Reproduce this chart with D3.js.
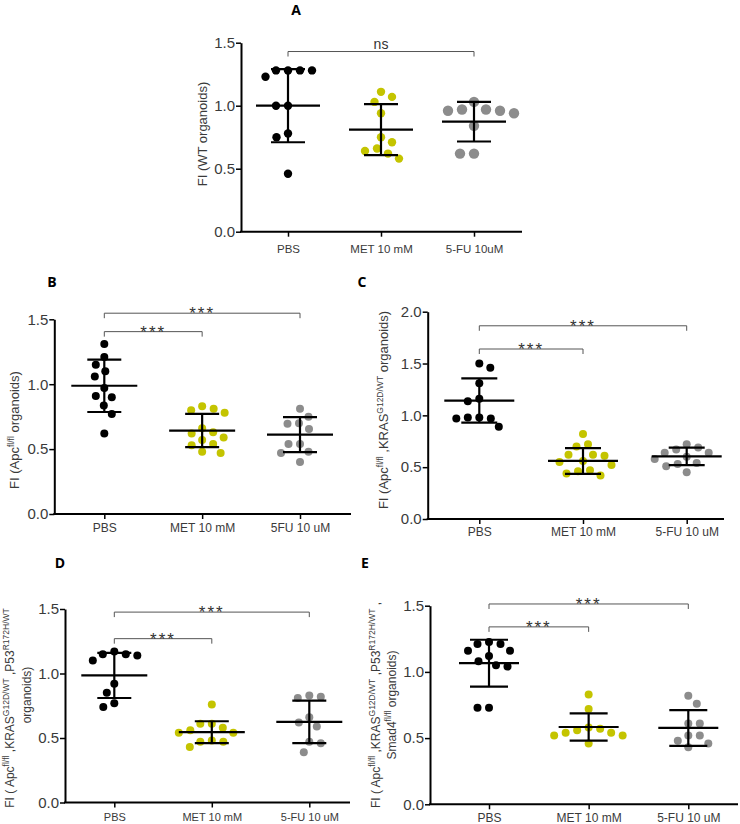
<!DOCTYPE html>
<html>
<head>
<meta charset="utf-8">
<script src="https://cdnjs.cloudflare.com/ajax/libs/d3/7.8.5/d3.min.js"></script>
<style>
  body { margin: 0; background: #fff; }
  svg { display: block; font-family: "Liberation Sans", Arial, sans-serif; }
</style>
</head>
<body>
<svg id="chart" width="740" height="824"></svg>
<script>
// categories (x tick labels) per panel
const catsA = ["PBS", "MET 10 mM", "5-FU 10uM"];
const catsB = ["PBS", "MET 10 mM", "5FU 10 uM"];
const catsC = ["PBS", "MET 10 mM", "5-FU 10 uM"];
const catsD = ["PBS", "MET 10 mM", "5-FU 10 uM"];
const catsE = ["PBS", "MET 10 mM", "5-FU 10 uM"];

// individual organoid values
const valuesA = [
  [1.28, 1.28, 1.28, 1.28, 1.23, 1.0, 1.0, 0.78, 0.75, 0.46],
  [1.11, 1.07, 1.03, 0.94, 0.75, 0.71, 0.66, 0.64, 0.62, 0.58],
  [1.03, 0.97, 0.97, 0.96, 0.96, 0.94, 0.84, 0.62, 0.62],
];
const valuesB = [
  [1.31, 1.21, 1.15, 1.1, 1.06, 0.97, 0.91, 0.9, 0.835, 0.77, 0.62],
  [0.83, 0.81, 0.8, 0.78, 0.66, 0.63, 0.62, 0.59, 0.57, 0.54, 0.53, 0.48, 0.47],
  [0.81, 0.75, 0.7, 0.695, 0.655, 0.54, 0.54, 0.48, 0.47, 0.4],
];
const valuesC = [
  [1.5, 1.46, 1.31, 1.16, 1.135, 0.98, 0.98, 0.97, 0.97, 0.89],
  [0.82, 0.72, 0.7, 0.62, 0.62, 0.61, 0.56, 0.55, 0.52, 0.47, 0.46, 0.44, 0.42],
  [0.72, 0.69, 0.67, 0.64, 0.64, 0.6, 0.58, 0.54, 0.53, 0.51, 0.45],
];
const valuesD = [
  [1.17, 1.15, 1.15, 1.14, 1.1, 0.92, 0.85, 0.77, 0.74],
  [0.76, 0.61, 0.61, 0.58, 0.56, 0.54, 0.54, 0.48, 0.47, 0.47, 0.43],
  [0.83, 0.82, 0.81, 0.66, 0.62, 0.59, 0.47, 0.46, 0.39],
];
const valuesE = [
  [1.225, 1.21, 1.21, 1.16, 1.16, 1.12, 1.08, 1.05, 1.04, 0.73, 0.73],
  [0.83, 0.72, 0.58, 0.57, 0.56, 0.54, 0.54, 0.52, 0.52, 0.46],
  [0.82, 0.76, 0.61, 0.61, 0.52, 0.52, 0.48, 0.46, 0.43],
];

// mean and SD bars as drawn
const meansA = [1.0, 0.81, 0.873];
const sdsA = [0.29, 0.203, 0.157];
const meansB = [0.988, 0.643, 0.612];
const sdsB = [0.202, 0.128, 0.135];
const meansC = [1.143, 0.56, 0.604];
const sdsC = [0.214, 0.124, 0.084];
const meansD = [0.985, 0.545, 0.625];
const sdsD = [0.175, 0.085, 0.165];
const meansE = [1.066, 0.584, 0.577];
const sdsE = [0.177, 0.103, 0.135];

// significance brackets: from group, to group, height, label
const bracketsA = [{ from: 0, to: 2, at: 1.43, label: "ns" }];
const bracketsB = [
  { from: 0, to: 1, at: 1.405, label: "***" },
  { from: 0, to: 2, at: 1.547, label: "***" },
];
const bracketsC = [
  { from: 0, to: 1, at: 1.64, label: "***" },
  { from: 0, to: 2, at: 1.864, label: "***" },
];
const bracketsD = [
  { from: 0, to: 1, at: 1.27, label: "***" },
  { from: 0, to: 2, at: 1.476, label: "***" },
];
const bracketsE = [
  { from: 0, to: 1, at: 1.34, label: "***" },
  { from: 0, to: 2, at: 1.513, label: "***" },
];

const groupColors = ["#000000", "#c4c400", "#8c8c8c"];

// panel layout (pixels)
const panels = [
  {
    letter: "A", letterPos: [296, 15],
    cats: catsA, values: valuesA, means: meansA, sds: sdsA, brackets: bracketsA,
    yMax: 1.5, ticks: [0, 0.5, 1, 1.5],
    axisX: [241, 522], catX: [288, 474], axisY: [231.7, 42.7],
    catLabelY: 253, catFont: 11.5, r: [4.2, 4.2, 5.2], meanHalf: 32, capHalf: 17,
    ylabel: [{ x: 207, y: 134, parts: [["FI (WT organoids)", 0]] }],
  },
  {
    letter: "B", letterPos: [52, 287],
    cats: catsB, values: valuesB, means: meansB, sds: sdsB, brackets: bracketsB,
    yMax: 1.5, ticks: [0, 0.5, 1, 1.5],
    axisX: [54.3, 351], catX: [104.3, 300], axisY: [514, 319.3],
    catLabelY: 532, catFont: 12, r: [4, 4, 4], meanHalf: 33, capHalf: 17,
    ylabel: [{ x: 19, y: 430, parts: [["FI (Apc", 0], ["fl/fl", 1], [" organoids)", 0]] }],
  },
  {
    letter: "C", letterPos: [362, 287],
    cats: catsC, values: valuesC, means: meansC, sds: sdsC, brackets: bracketsC,
    yMax: 2.0, ticks: [0, 0.5, 1, 1.5, 2],
    axisX: [427.7, 724], catX: [479.3, 686.7], axisY: [519, 311.7],
    catLabelY: 535.5, catFont: 12, r: [4, 4, 4], meanHalf: 35, capHalf: 18,
    ylabel: [{ x: 388, y: 410, parts: [["FI (Apc", 0], ["fl/fl", 1], [" ,KRAS", 0], ["G12D/WT", 1], [" organoids)", 0]] }],
  },
  {
    letter: "D", letterPos: [60, 568],
    cats: catsD, values: valuesD, means: meansD, sds: sdsD, brackets: bracketsD,
    yMax: 1.5, ticks: [0, 0.5, 1, 1.5],
    axisX: [65, 350], catX: [114.3, 309.3], axisY: [802.5, 609],
    catLabelY: 821, catFont: 11, r: [4, 4, 4], meanHalf: 33, capHalf: 17,
    ylabel: [
      { x: 14, y: 708, parts: [["FI ( Apc", 0], ["fl/fl", 1], [" ,KRAS", 0], ["G12D/WT", 1], [" ,P53", 0], ["R172H/WT", 1]] },
      { x: 31, y: 695, parts: [["organoids)", 0]] },
    ],
  },
  {
    letter: "E", letterPos: [365, 568],
    cats: catsE, values: valuesE, means: meansE, sds: sdsE, brackets: bracketsE,
    yMax: 1.5, ticks: [0, 0.5, 1, 1.5],
    axisX: [430, 738], catX: [489, 688.3], axisY: [804.3, 605.7],
    catLabelY: 822, catFont: 12, r: [4, 4, 4], meanHalf: 30, capHalf: 19,
    ylabel: [
      { x: 380, y: 705, parts: [["FI ( Apc", 0], ["fl/fl", 1], [" ,KRAS", 0], ["G12D/WT", 1], [" ,P53", 0], ["R172H/WT", 1], [" ,", 0]] },
      { x: 396, y: 705, parts: [["Smad4", 0], ["fl/fl", 1], [" organoids)", 0]] },
    ],
  },
];

const svg = d3.select("#chart");
const fmt = d3.format(".1f");

// simple beeswarm: each point takes the nearest free horizontal offset
const swarm = (vals, y, dist) => {
  const placed = [];
  vals
    .slice()
    .sort((a, b) => b - a)
    .forEach((v, i) => {
      const py = y(v);
      let best = null;
      for (let k = 0; k <= 120 && best === null; k++) {
        const cands = k === 0 ? [0] : i % 2 ? [k * 0.5, -k * 0.5] : [-k * 0.5, k * 0.5];
        for (const dx of cands) {
          const free = placed.every((q) => (q.dx - dx) ** 2 + (q.py - py) ** 2 >= dist * dist);
          if (free) {
            best = dx;
            break;
          }
        }
      }
      placed.push({ v, dx: best, py });
    });
  return placed;
};

const drawPanel = (p) => {
  const g = svg.append("g");
  const y = d3.scaleLinear().domain([0, p.yMax]).range(p.axisY);
  const x = d3.scalePoint().domain(p.cats).range(p.catX);

  // panel letter
  g.append("text")
    .attr("x", p.letterPos[0])
    .attr("y", p.letterPos[1])
    .attr("text-anchor", "middle")
    .style("font-family", "'Open Sans', 'DejaVu Sans', sans-serif")
    .style("font-weight", "bold")
    .style("font-size", "14px")
    .text(p.letter);

  // y axis
  const yAxis = g.append("g")
    .attr("transform", `translate(${p.axisX[0]},0)`)
    .call(d3.axisLeft(y).tickValues(p.ticks).tickFormat(fmt).tickSize(5).tickSizeOuter(0));
  yAxis.select(".domain").attr("stroke", "#000").attr("stroke-width", 2);
  yAxis.selectAll(".tick line").attr("stroke", "#000").attr("stroke-width", 1.5);
  yAxis.selectAll(".tick text")
    .attr("fill", "#3a3a3a")
    .attr("x", -6)
    .style("font-size", "15px")
    .style("font-family", "'Liberation Sans', Arial, sans-serif");

  // x axis
  const xAxis = g.append("g")
    .attr("transform", `translate(0,${p.axisY[0]})`)
    .call(d3.axisBottom(x).tickSize(5).tickSizeOuter(0));
  xAxis.select(".domain").remove();
  xAxis.append("line")
    .attr("x1", p.axisX[0] - 1)
    .attr("x2", p.axisX[1])
    .attr("stroke", "#000")
    .attr("stroke-width", 2);
  xAxis.selectAll(".tick line").attr("stroke", "#000").attr("stroke-width", 1.5);
  xAxis.selectAll(".tick text")
    .attr("fill", "#3a3a3a")
    .attr("y", p.catLabelY - p.axisY[0])
    .attr("dy", 0)
    .style("font-size", p.catFont + "px")
    .style("font-family", "'Liberation Sans', Arial, sans-serif");

  // y label, rotated, with superscripts
  p.ylabel.forEach((line) => {
    const t = g.append("text")
      .attr("transform", `translate(${line.x},${line.y}) rotate(-90)`)
      .attr("text-anchor", "middle")
      .attr("fill", "#3a3a3a")
      .style("font-size", p.letter === "D" || p.letter === "E" ? "12px" : "13px");
    line.parts.forEach(([txt, sup]) => {
      const s = t.append("tspan").text(txt);
      if (sup) s.attr("baseline-shift", "super").style("font-size", "8.5px");
    });
  });

  // points
  p.values.forEach((vals, gi) => {
    const cx = x(p.cats[gi]);
    const pts = swarm(vals, y, p.r[gi] * 2 + 3.5);
    g.append("g")
      .selectAll("circle")
      .data(pts)
      .join("circle")
      .attr("cx", (d) => cx + d.dx)
      .attr("cy", (d) => y(d.v))
      .attr("r", p.r[gi])
      .attr("fill", groupColors[gi]);
  });

  // mean and SD bars on top of dots
  p.means.forEach((m, gi) => {
    const cx = x(p.cats[gi]);
    const lo = y(m - p.sds[gi]);
    const hi = y(m + p.sds[gi]);
    const bar = g.append("g").attr("stroke", "#000").attr("stroke-width", 2.2);
    bar.append("line").attr("x1", cx).attr("x2", cx).attr("y1", lo).attr("y2", hi);
    bar.append("line").attr("x1", cx - p.capHalf).attr("x2", cx + p.capHalf).attr("y1", lo).attr("y2", lo);
    bar.append("line").attr("x1", cx - p.capHalf).attr("x2", cx + p.capHalf).attr("y1", hi).attr("y2", hi);
    bar.append("line").attr("x1", cx - p.meanHalf).attr("x2", cx + p.meanHalf).attr("y1", y(m)).attr("y2", y(m));
  });

  // significance brackets
  p.brackets.forEach((b) => {
    const xa = x(p.cats[b.from]);
    const xb = x(p.cats[b.to]);
    const by = y(b.at);
    const isNs = b.label === "ns";
    g.append("path")
      .attr("d", `M${xa},${by + 5}V${by}H${xb}V${by + 5}`)
      .attr("fill", "none")
      .attr("stroke", "#555")
      .attr("stroke-width", 1);
    g.append("text")
      .attr("x", (xa + xb) / 2)
      .attr("y", isNs ? by - 3 : by + 6)
      .attr("text-anchor", "middle")
      .attr("fill", "#333")
      .style("font-size", isNs ? "14px" : "17px")
      .style("letter-spacing", isNs ? "0px" : "2px")
      .text(b.label);
  });
};

panels.forEach(drawPanel);
</script>
</body>
</html>
